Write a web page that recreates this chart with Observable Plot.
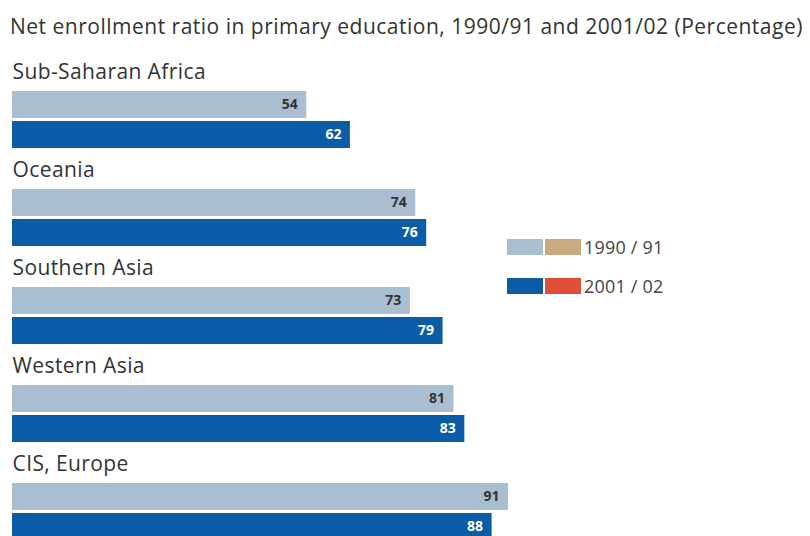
<!DOCTYPE html>
<html>
<head>
<meta charset="utf-8">
<script src="https://cdn.jsdelivr.net/npm/d3@7"></script>
<script src="https://cdn.jsdelivr.net/npm/@observablehq/plot@0.6"></script>
<style>
  html, body { margin: 0; padding: 0; background: #fff; }
  #wrap { position: relative; width: 810px; height: 536px; overflow: hidden; background: #fff; }
  #title { height: 50px; box-sizing: border-box; padding: 12px 0 0 10px; font-family: "Open Sans", sans-serif; font-size: 21px; line-height: 28px; color: #333; letter-spacing: 0.5px; white-space: nowrap; }
  #legend { position: absolute; left: 507px; top: 238px; font-family: "Open Sans", sans-serif; font-size: 18px; color: #444; letter-spacing: 0.2px; }
  #legend .row { display: flex; align-items: center; height: 18px; margin-bottom: 21px; }
  #legend .sw { width: 36px; height: 16px; margin-right: 2px; }
  #legend .lab { margin-left: 1px; }
</style>
</head>
<body>
<div id="wrap">
  <div id="title">Net enrollment ratio in primary education, 1990/91 and 2001/02 (Percentage)</div>
  <div id="chart"></div>
  <div id="legend"></div>
</div>
<script>
const regions = ["Sub-Saharan Africa", "Oceania", "Southern Asia", "Western Asia", "CIS, Europe"];
const years = ["1990/91", "2001/02"];
const values1990 = [54, 74, 73, 81, 91];
const values2001 = [62, 76, 79, 83, 88];
const barColors = ["#a9bed0", "#0b5ca6"];
const altColors = ["#c8ab7e", "#df4f37"];
const labelColors = ["#333333", "#ffffff"];

const data = regions.flatMap((r, i) => [
  {region: r, year: years[0], value: values1990[i]},
  {region: r, year: years[1], value: values2001[i]}
]);

const chart = Plot.plot({
  width: 810,
  height: 496,
  marginTop: 38,
  marginBottom: 5,
  marginLeft: 12,
  marginRight: 253,
  style: {fontFamily: "'Open Sans', sans-serif", background: "white"},
  x: {domain: [0, 100], axis: null},
  y: {domain: years, paddingInner: 0.1, paddingOuter: 0, axis: null},
  fy: {domain: regions, paddingInner: 0.4127, paddingOuter: 0, axis: null},
  color: {domain: years, range: barColors},
  marks: [
    Plot.barX(data, {x: "value", y: "year", fy: "region", fill: "year"}),
    Plot.text(data, {
      x: "value", y: "year", fy: "region", text: d => String(d.value),
      textAnchor: "end", dx: -9, fontWeight: "bold", fontSize: 14,
      fill: d => labelColors[years.indexOf(d.year)]
    }),
    Plot.text(regions, {
      fy: d => d, text: d => d, frameAnchor: "top-left", lineAnchor: "bottom",
      dy: -12, fontSize: 21, fill: "#333"
    })
  ]
});
chart.querySelectorAll("g[aria-label='text']").forEach((g, i) => {
  if (i === 1) g.setAttribute("letter-spacing", "0.4");
});
document.getElementById("chart").appendChild(chart);

const legend = document.getElementById("legend");
years.forEach((y, i) => {
  const row = document.createElement("div");
  row.className = "row";
  row.innerHTML = `<div class="sw" style="background:${barColors[i]}"></div><div class="sw" style="background:${altColors[i]}"></div><div class="lab">${y.replace("/", " / ")}</div>`;
  legend.appendChild(row);
});
</script>
</body>
</html>
